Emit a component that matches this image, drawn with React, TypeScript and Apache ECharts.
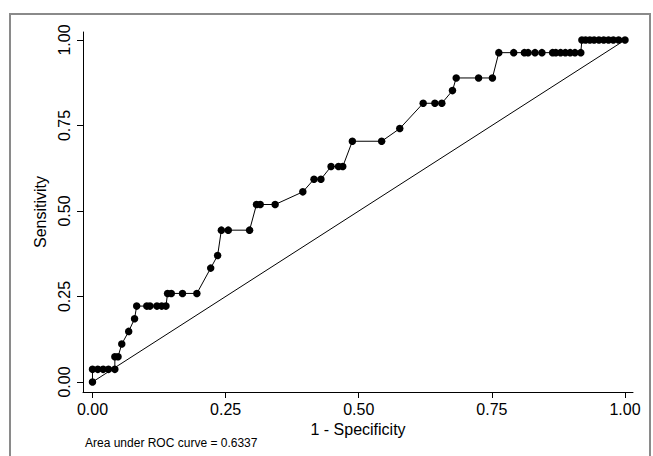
import React, { useEffect, useRef } from "react";
import * as echarts from "echarts";

// 1 - Specificity (false positive rate)
const fpr: number[] = [
  0, 0, 0.01, 0.02, 0.03, 0.042, 0.042, 0.048, 0.055, 0.068, 0.079,
  0.083, 0.102, 0.108, 0.121, 0.13, 0.138,
  0.141, 0.148, 0.169, 0.196,
  0.222, 0.235,
  0.242, 0.255, 0.295,
  0.308, 0.315, 0.343,
  0.395,
  0.416, 0.429,
  0.448, 0.462, 0.47,
  0.488, 0.543,
  0.577,
  0.621, 0.643, 0.656,
  0.676,
  0.683, 0.725, 0.751,
  0.763, 0.791, 0.811, 0.818, 0.831, 0.844, 0.864, 0.87, 0.879, 0.888, 0.897, 0.906, 0.917,
  0.919, 0.926, 0.934, 0.942, 0.951, 0.96, 0.969, 0.978, 0.988, 1.0,
];
// Sensitivity (true positive rate)
const tpr: number[] = [
  0, 0.037, 0.037, 0.037, 0.037, 0.037, 0.074, 0.074, 0.111, 0.148, 0.185,
  0.222, 0.222, 0.222, 0.222, 0.222, 0.222,
  0.259, 0.259, 0.259, 0.259,
  0.333, 0.37,
  0.444, 0.444, 0.444,
  0.519, 0.519, 0.519,
  0.556,
  0.593, 0.593,
  0.63, 0.63, 0.63,
  0.704, 0.704,
  0.741,
  0.815, 0.815, 0.815,
  0.852,
  0.889, 0.889, 0.889,
  0.963, 0.963, 0.963, 0.963, 0.963, 0.963, 0.963, 0.963, 0.963, 0.963, 0.963, 0.963, 0.963,
  1, 1, 1, 1, 1, 1, 1, 1, 1, 1,
];
const refLine: number[][] = [[0, 0], [1, 1]];
const tickValues: number[] = [0, 0.25, 0.5, 0.75, 1];
const tickLabels: string[] = ["0.00", "0.25", "0.50", "0.75", "1.00"];
const xTitle = "1 - Specificity";
const yTitle = "Sensitivity";
const noteText = "Area under ROC curve = 0.6337";

export default function App() {
  const ref = useRef<HTMLDivElement>(null);
  useEffect(() => {
    if (!ref.current) return;
    const chart = echarts.init(ref.current, null, { renderer: "svg" });
    const font = "'Liberation Sans', Arial, sans-serif";
    const fmt = (v: number) => {
      const i = tickValues.findIndex((t) => Math.abs(t - v) < 1e-9);
      return i >= 0 ? tickLabels[i] : "";
    };
    const axisCommon = {
      type: "value" as const,
      splitLine: { show: false },
      axisLine: { show: true, onZero: false, lineStyle: { color: "#000", width: 1 } },
      axisTick: { show: true, length: 6, lineStyle: { color: "#000", width: 1 }, customValues: tickValues },
      nameTextStyle: { color: "#000", fontSize: 16, fontFamily: font },
    };
    chart.setOption({
      animation: false,
      backgroundColor: "#fff",
      grid: { left: 83, right: 20, top: 32, bottom: 64, containLabel: false },
      xAxis: {
        ...axisCommon,
        min: -0.0178,
        max: 1.015,
        name: xTitle,
        nameLocation: "middle",
        nameGap: 24,
        axisLabel: {
          color: "#000",
          fontSize: 16,
          fontFamily: font,
          margin: 9,
          customValues: tickValues,
          formatter: fmt,
        },
      },
      yAxis: {
        ...axisCommon,
        min: -0.0292,
        max: 1.0234,
        name: yTitle,
        nameLocation: "middle",
        nameGap: 25,
        nameRotate: 90,
        axisLabel: {
          color: "#000",
          fontSize: 16,
          fontFamily: font,
          margin: 11,
          rotate: 90,
          customValues: tickValues,
          formatter: fmt,
        },
      },
      series: [
        {
          type: "line",
          data: refLine,
          showSymbol: false,
          symbol: "none",
          lineStyle: { color: "#000", width: 1 },
          silent: true,
        },
        {
          type: "line",
          data: fpr.map((x, i) => [x, tpr[i]]),
          symbol: "circle",
          symbolSize: 7.5,
          itemStyle: { color: "#000" },
          lineStyle: { color: "#000", width: 1 },
        },
      ],
      graphic: [
        {
          type: "rect",
          shape: { x: 10, y: 14, width: 640, height: 460 },
          style: { fill: "none", stroke: "#8a8a8a", lineWidth: 2 },
          silent: true,
        },
        {
          type: "text",
          left: 85,
          top: 437,
          style: { text: noteText, fill: "#000", fontSize: 12, fontFamily: font },
        },
      ],
    });
    return () => chart.dispose();
  }, []);
  return (
    <div
      ref={ref}
      style={{ position: "fixed", left: 0, top: 0, width: 653, height: 456 }}
    />
  );
}
